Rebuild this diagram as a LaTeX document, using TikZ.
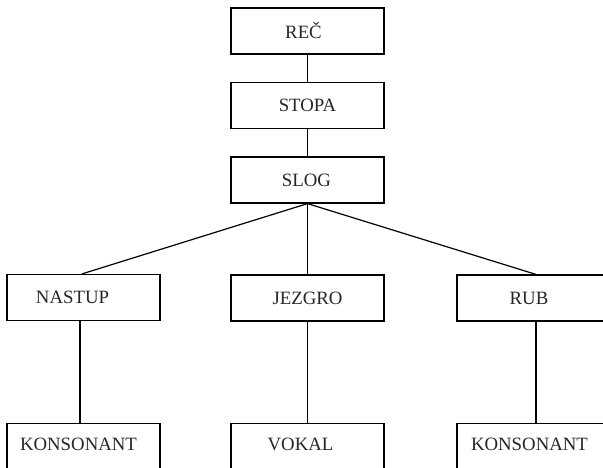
\documentclass[tikz,border=0pt]{standalone}
\usepackage{fontspec}
\setmainfont{Liberation Serif}
\begin{document}
\begin{tikzpicture}[x=1pt,y=-1pt,
  box/.style={draw, line width=1.2pt, rectangle, minimum width=153pt, minimum height=46pt, inner sep=0pt},
  tallbox/.style={box, minimum height=80pt},
  lbl/.style={font=\fontsize{18.8}{22}\selectfont, inner sep=0pt, text=black!85},
  edge/.style={line width=1.2pt}]
\useasboundingbox (0,0) rectangle (603,468);
\clip (0,0) rectangle (603,468);
% upper chain
\node[box] (rec)   at (307.5,31)  {};
\node[box] (stopa) at (307.5,105.5) {};
\node[box] (slog)  at (307.5,180) {};
% middle row
\node[box] (nastup) at (83.5,297.5) {};
\node[box] (jezgro) at (307.5,298) {};
\node[box] (rub)    at (533.5,298) {};
% bottom row, running past the page edge
\node[tallbox, anchor=north] (kons1) at (83.5,423) {};
\node[tallbox, anchor=north] (vokal) at (307.5,423) {};
\node[tallbox, anchor=north] (kons2) at (533.5,423) {};
% labels
\node[lbl] at ([xshift=-4pt]rec.center) {REČ};
\node[lbl] at (stopa.center) {STOPA};
\node[lbl] at ([xshift=-1pt]slog.center) {SLOG};
\node[lbl] at ([xshift=-11pt]nastup.center) {NASTUP};
\node[lbl] at (jezgro.center) {JEZGRO};
\node[lbl] at ([xshift=-4.5pt]rub.center) {RUB};
\node[lbl, anchor=base] at ([xshift=-5pt,yshift=-27pt]kons1.north) {KONSONANT};
\node[lbl, anchor=base] at ([xshift=-7pt,yshift=-27pt]vokal.north) {VOKAL};
\node[lbl, anchor=base] at ([xshift=-4pt,yshift=-27pt]kons2.north) {KONSONANT};
% connectors
\draw[edge] (rec.south) -- (stopa.north);
\draw[edge] (stopa.south) -- (slog.north);
\draw[edge] (slog.south) -- ([xshift=-1.5pt]nastup.north);
\draw[edge] (slog.south) -- (jezgro.north);
\draw[edge] (slog.south) -- ([xshift=2.5pt]rub.north);
\draw[edge] ([xshift=-3.5pt]nastup.south) -- ([xshift=-3.5pt]kons1.north);
\draw[edge] (jezgro.south) -- (vokal.north);
\draw[edge] ([xshift=2.5pt]rub.south) -- ([xshift=2.5pt]kons2.north);
\end{tikzpicture}
\end{document}
